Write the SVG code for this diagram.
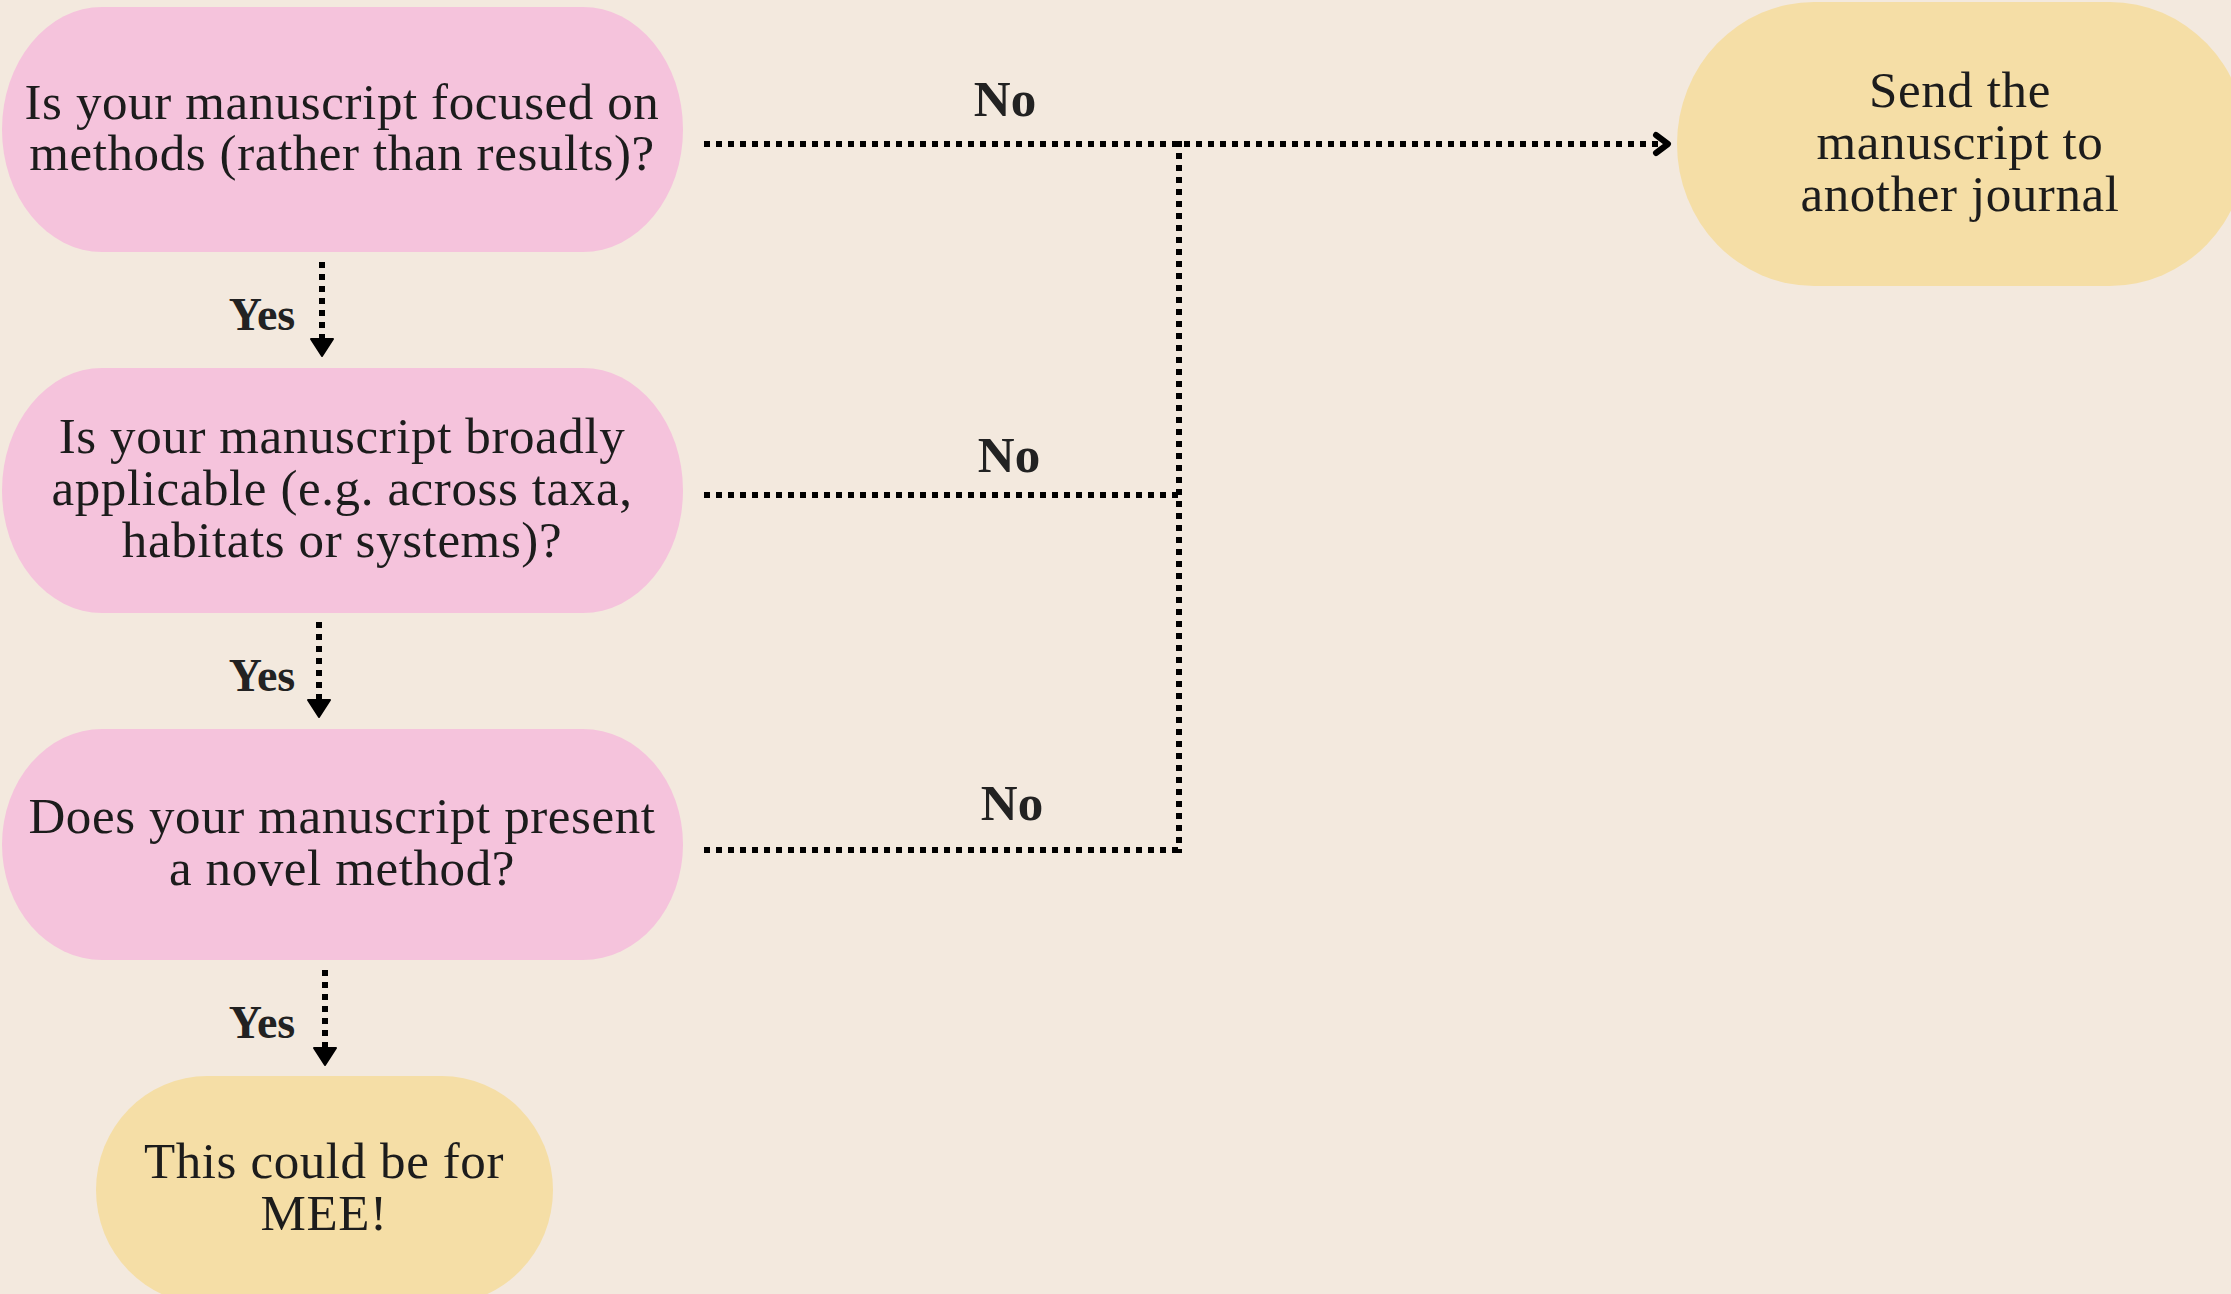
<svg xmlns="http://www.w3.org/2000/svg" width="2231" height="1294" viewBox="0 0 2231 1294">
<style>
.bg{fill:#f3e9de}
.q{fill:#f5c3dc}
.end{fill:#f5dea6}
.t{font-family:"Liberation Serif","Times New Roman",serif;font-size:51px;letter-spacing:0.6px;fill:#1c1c1c;text-anchor:middle}
.lbl{font-family:"Liberation Serif","Times New Roman",serif;font-size:46px;font-weight:bold;fill:#222;text-anchor:middle}
.no{font-size:51px}
.dot{fill:none;stroke:#000;stroke-width:6;stroke-dasharray:6 6}
</style>
<defs>
<marker id="tri" markerUnits="userSpaceOnUse" orient="auto" refX="0" refY="0" markerWidth="30" markerHeight="30" overflow="visible">
<path d="M0,-11 L17,0 L0,11 Z" fill="#000" stroke="#000" stroke-width="2" stroke-linejoin="round"/>
</marker>
<marker id="chev" markerUnits="userSpaceOnUse" orient="auto" refX="0" refY="0" markerWidth="30" markerHeight="30" overflow="visible">
<path d="M-12,-9 L0,0 L-12,9" fill="none" stroke="#000" stroke-width="6" stroke-linecap="round" stroke-linejoin="round"/>
</marker>
</defs>
<rect class="bg" x="0" y="0" width="2231" height="1294"/>
<g id="connectors">
<path class="dot" d="M704,144 H1668" marker-end="url(#chev)"/>
<path class="dot" d="M704,495 H1182"/>
<path class="dot" d="M704,850 H1182"/>
<path class="dot" d="M1179,141 V853"/>
<path class="dot" d="M322,262 V339" marker-end="url(#tri)"/>
<path class="dot" d="M319,622 V700" marker-end="url(#tri)"/>
<path class="dot" d="M325,970 V1048" marker-end="url(#tri)"/>
<text class="lbl no" x="1005" y="116">No</text>
<text class="lbl no" x="1009" y="472">No</text>
<text class="lbl no" x="1012" y="820">No</text>
<text class="lbl" x="262" y="330">Yes</text>
<text class="lbl" x="262" y="691">Yes</text>
<text class="lbl" x="262" y="1038">Yes</text>
</g>
<g id="q1">
<rect class="q" x="2" y="7" width="681" height="245" rx="100" ry="122.5"/>
<text class="t" x="342" y="119">Is your manuscript focused on</text>
<text class="t" x="342" y="170">methods (rather than results)?</text>
</g>
<g id="q2">
<rect class="q" x="2" y="368" width="681" height="245" rx="100" ry="122.5"/>
<text class="t" x="342" y="453">Is your manuscript broadly</text>
<text class="t" x="342" y="505">applicable (e.g. across taxa,</text>
<text class="t" x="342" y="557">habitats or systems)?</text>
</g>
<g id="q3">
<rect class="q" x="2" y="729" width="681" height="231" rx="100" ry="115.5"/>
<text class="t" x="342" y="833">Does your manuscript present</text>
<text class="t" x="342" y="885">a novel method?</text>
</g>
<g id="mee">
<rect class="end" x="96" y="1076" width="457" height="228" rx="111" ry="114"/>
<text class="t" x="324" y="1178">This could be for</text>
<text class="t" x="324" y="1230">MEE!</text>
</g>
<g id="other">
<rect class="end" x="1677" y="2" width="570" height="284" rx="137" ry="142"/>
<text class="t" x="1960" y="107">Send the</text>
<text class="t" x="1960" y="159">manuscript to</text>
<text class="t" x="1960" y="211">another journal</text>
</g>
</svg>
